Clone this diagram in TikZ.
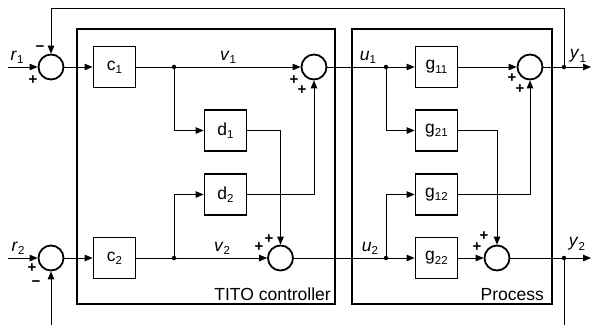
\documentclass[tikz,border=0pt]{standalone}
\usepackage{fontspec}
\setmainfont{Liberation Sans}
\usetikzlibrary{arrows.meta}
\newcommand\mysub[1]{\raisebox{-0.35ex}{\fontsize{11.5}{12}\selectfont #1}}
\begin{document}
\begin{tikzpicture}[x=1pt,y=-1pt,
  lbl/.style={font=\fontsize{17.5}{19}\selectfont, inner sep=0pt},
  sgn/.style={font=\fontsize{15}{15}\selectfont\bfseries, inner sep=0pt},
  blk/.style={draw, line width=1.8pt, minimum width=42pt, minimum height=41pt, inner sep=0pt, font=\fontsize{17.5}{19}\selectfont},
  sumn/.style={draw, circle, line width=1.8pt, minimum size=25pt, inner sep=0pt},
  dotn/.style={circle, fill, minimum size=4.5pt, inner sep=0pt},
  frame/.style={draw, line width=1.2pt},
  conn/.style={line width=0.9pt},
  arr/.style={conn, -{Triangle[length=8pt,width=6.5pt]}}
]
\useasboundingbox (0,0) rectangle (591,325);
% frames
\draw[frame] (77,29) rectangle (335,304);
\draw[frame] (352,29) rectangle (552,304);
\node[lbl, anchor=base east] (tito) at (331,300) {TITO controller};
\node[lbl, anchor=base east] (proc) at (544,300) {Process};
% sums
\node[sumn] (s1) at (51,67) {};
\node[sumn] (s2) at (51,258) {};
\node[sumn] (sc1) at (314,67) {};
\node[sumn] (sc2) at (280.5,258) {};
\node[sumn] (sp1) at (530,67) {};
\node[sumn] (sp2) at (497,258) {};
% blocks
\node[blk] (c1) at (114.5,67) {c\mysub{1}};
\node[blk] (c2) at (114.5,258) {c\mysub{2}};
\node[blk] (d1) at (225.5,130.5) {d\mysub{1}};
\node[blk] (d2) at (225.5,194.5) {d\mysub{2}};
\node[blk] (g11) at (436.5,67) {g\mysub{11}};
\node[blk] (g21) at (436.5,130.5) {g\mysub{21}};
\node[blk] (g12) at (436.5,194.5) {g\mysub{12}};
\node[blk] (g22) at (436.5,258) {g\mysub{22}};
% dots
\node[dotn] (b1) at (174,67) {};
\node[dotn] (b2) at (174,258) {};
\node[dotn] (u1d) at (386,67) {};
\node[dotn] (u2d) at (386,258) {};
\node[dotn] (y1d) at (564,67) {};
\node[dotn] (y2d) at (564,258) {};
% free ends
\coordinate (r1) at (8,67);
\coordinate (r2) at (8,258);
\coordinate (y1e) at (591,67);
\coordinate (y2e) at (591,258);
\coordinate (ftop) at (564,8);
\coordinate (fb1) at (564,325);
\coordinate (fb2) at (51,325);
% connectors
\draw[arr] (r1) -- (s1);
\draw[arr] (r2) -- (s2);
\draw[arr] (s1) -- (c1);
\draw[arr] (s2) -- (c2);
\draw[conn] (c1) -- (b1);
\draw[arr] (b1) -- (sc1);
\draw[conn] (c2) -- (b2);
\draw[arr] (b2) -- (sc2);
\draw[arr] (b1) |- (d1);
\draw[arr] (b2) |- (d2);
\draw[arr] (d1.east) -| (sc2.north);
\draw[arr] (d2.east) -| (sc1.south);
\draw[conn] (sc1) -- (u1d);
\draw[conn] (sc2) -- (u2d);
\draw[arr] (u1d) -- (g11);
\draw[arr] (u2d) -- (g22);
\draw[arr] (u1d) |- (g21);
\draw[arr] (u2d) |- (g12);
\draw[arr] (g11) -- (sp1);
\draw[arr] (g22) -- (sp2);
\draw[arr] (g21.east) -| (sp2.north);
\draw[arr] (g12.east) -| (sp1.south);
\draw[conn] (sp1) -- (y1d);
\draw[arr] (y1d) -- (y1e);
\draw[conn] (sp2) -- (y2d);
\draw[arr] (y2d) -- (y2e);
\draw[arr] (y1d) -- (ftop) -| (s1.north);
\draw[conn] (y2d) -- (fb1);
\draw[arr] (fb2) -- (s2.south);
% signal labels
\node[lbl] (lr1) at (17,57) {\textit{r}\mysub{1}};
\node[lbl] (lr2) at (18,248) {\textit{r}\mysub{2}};
\node[lbl] (lv1) at (228,57) {\textit{v}\mysub{1}};
\node[lbl] (lv2) at (222,248) {\textit{v}\mysub{2}};
\node[lbl] (lu1) at (368,57) {\textit{u}\mysub{1}};
\node[lbl] (lu2) at (370,248) {\textit{u}\mysub{2}};
\node[lbl] (ly1) at (578,56) {\textit{y}\mysub{1}};
\node[lbl] (ly2) at (577,244) {\textit{y}\mysub{2}};
% signs
\node[sgn] at (40,49) {\char"2212};
\node[sgn] at (33,80) {+};
\node[sgn] at (32,268) {+};
\node[sgn] at (36,284) {\char"2212};
\node[sgn] at (294,80) {+};
\node[sgn] at (302,90) {+};
\node[sgn] at (259,247) {+};
\node[sgn] at (269,239) {+};
\node[sgn] at (512,78) {+};
\node[sgn] at (520,89) {+};
\node[sgn] at (477,247) {+};
\node[sgn] at (484,236) {+};
\end{tikzpicture}
\end{document}
